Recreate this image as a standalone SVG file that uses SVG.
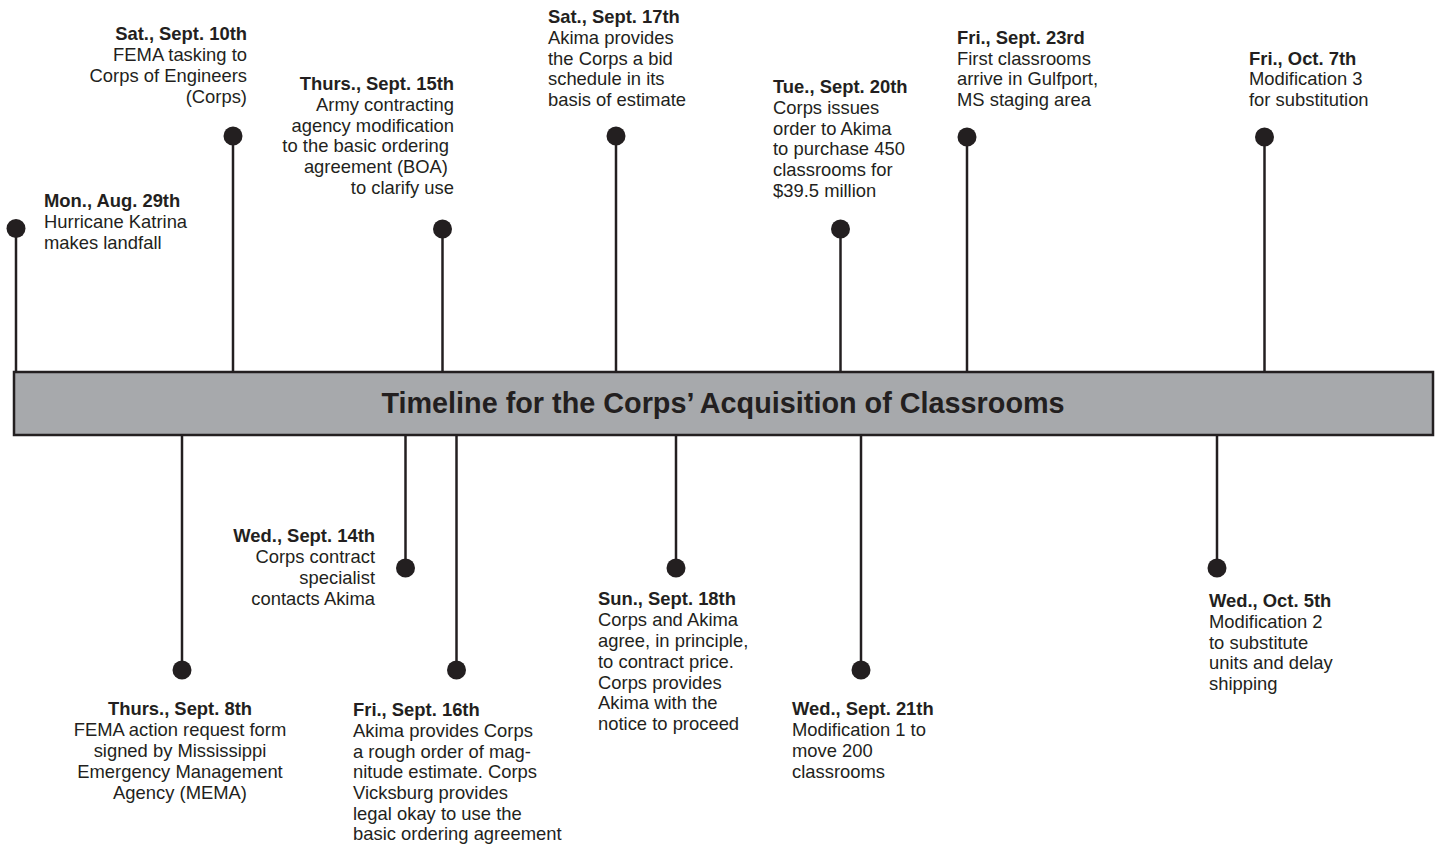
<svg xmlns="http://www.w3.org/2000/svg" width="1439" height="848" viewBox="0 0 1439 848">
<style>
text{font-family:"Liberation Sans",Arial,Helvetica,sans-serif;font-size:18.4px;fill:#231f20}
.b{font-weight:bold}
.e{text-anchor:end}
.m{text-anchor:middle}
.title{font-weight:bold;font-size:28.8px;text-anchor:middle}
.stem{stroke:#231f20;stroke-width:2.5;fill:none}
.dot{fill:#231f20}
</style>
<rect width="1439" height="848" fill="#ffffff"/>
<g id="connectors">
<line class="stem" x1="16" y1="228" x2="16" y2="373"/>
<line class="stem" x1="233" y1="136" x2="233" y2="373"/>
<line class="stem" x1="442.5" y1="229" x2="442.5" y2="373"/>
<line class="stem" x1="616" y1="136" x2="616" y2="373"/>
<line class="stem" x1="840.5" y1="229" x2="840.5" y2="373"/>
<line class="stem" x1="967" y1="137" x2="967" y2="373"/>
<line class="stem" x1="1264.5" y1="137" x2="1264.5" y2="373"/>
<line class="stem" x1="182" y1="434" x2="182" y2="670"/>
<line class="stem" x1="405.5" y1="434" x2="405.5" y2="568"/>
<line class="stem" x1="456.5" y1="434" x2="456.5" y2="670"/>
<line class="stem" x1="676" y1="434" x2="676" y2="568"/>
<line class="stem" x1="861" y1="434" x2="861" y2="670"/>
<line class="stem" x1="1217" y1="434" x2="1217" y2="568"/>
</g>
<g id="bar">
<rect x="14" y="372" width="1419" height="63" fill="#a7a9ac" stroke="#231f20" stroke-width="2.5"/>
<text class="title" x="723" y="413">Timeline for the Corps’ Acquisition of Classrooms</text>
</g>
<g id="aug29">
<circle class="dot" cx="16" cy="228.5" r="9.5"/>
<text x="44" y="207"><tspan class="b">Mon., Aug. 29th</tspan><tspan x="44" y="228">Hurricane Katrina</tspan><tspan x="44" y="249">makes landfall</tspan></text>
</g>
<g id="sep8">
<circle class="dot" cx="182" cy="670" r="9.5"/>
<text class="m" x="180" y="715"><tspan class="b">Thurs., Sept. 8th</tspan><tspan x="180" y="736">FEMA action request form</tspan><tspan x="180" y="757">signed by Mississippi</tspan><tspan x="180" y="778">Emergency Management</tspan><tspan x="180" y="799">Agency (MEMA)</tspan></text>
</g>
<g id="sep10">
<circle class="dot" cx="233" cy="136" r="9.5"/>
<text class="e" x="247" y="40"><tspan class="b">Sat., Sept. 10th</tspan><tspan x="247" y="61">FEMA tasking to</tspan><tspan x="247" y="82">Corps of Engineers</tspan><tspan x="247" y="103">(Corps)</tspan></text>
</g>
<g id="sep14">
<circle class="dot" cx="405.5" cy="568" r="9.5"/>
<text class="e" x="375" y="542"><tspan class="b">Wed., Sept. 14th</tspan><tspan x="375" y="563">Corps contract</tspan><tspan x="375" y="584">specialist</tspan><tspan x="375" y="605">contacts Akima</tspan></text>
</g>
<g id="sep15">
<circle class="dot" cx="442.5" cy="229" r="9.5"/>
<text class="e" x="454" y="90"><tspan class="b">Thurs., Sept. 15th</tspan><tspan x="454" y="111">Army contracting</tspan><tspan x="454" y="131.5">agency modification</tspan><tspan x="449" y="152">to the basic ordering</tspan><tspan x="448" y="173">agreement (BOA)</tspan><tspan x="454" y="193.5">to clarify use</tspan></text>
</g>
<g id="sep16">
<circle class="dot" cx="456.5" cy="670" r="9.5"/>
<text x="353" y="716"><tspan class="b">Fri., Sept. 16th</tspan><tspan x="353" y="737">Akima provides Corps</tspan><tspan x="353" y="757.5">a rough order of mag-</tspan><tspan x="353" y="778">nitude estimate. Corps</tspan><tspan x="353" y="798.5">Vicksburg provides</tspan><tspan x="353" y="819.5">legal okay to use the</tspan><tspan x="353" y="840">basic ordering agreement</tspan></text>
</g>
<g id="sep17">
<circle class="dot" cx="616" cy="136" r="9.5"/>
<text x="548" y="22.5"><tspan class="b">Sat., Sept. 17th</tspan><tspan x="548" y="43.5">Akima provides</tspan><tspan x="548" y="64.5">the Corps a bid</tspan><tspan x="548" y="85">schedule in its</tspan><tspan x="548" y="106">basis of estimate</tspan></text>
</g>
<g id="sep18">
<circle class="dot" cx="676" cy="568" r="9.5"/>
<text x="598" y="605"><tspan class="b">Sun., Sept. 18th</tspan><tspan x="598" y="626">Corps and Akima</tspan><tspan x="598" y="647">agree, in principle,</tspan><tspan x="598" y="667.5">to contract price.</tspan><tspan x="598" y="688.5">Corps provides</tspan><tspan x="598" y="709">Akima with the</tspan><tspan x="598" y="730">notice to proceed</tspan></text>
</g>
<g id="sep20">
<circle class="dot" cx="840.5" cy="229" r="9.5"/>
<text x="773" y="93"><tspan class="b">Tue., Sept. 20th</tspan><tspan x="773" y="113.5">Corps issues</tspan><tspan x="773" y="134.5">order to Akima</tspan><tspan x="773" y="155">to purchase 450</tspan><tspan x="773" y="176">classrooms for</tspan><tspan x="773" y="196.5">$39.5 million</tspan></text>
</g>
<g id="sep21">
<circle class="dot" cx="861" cy="670" r="9.5"/>
<text x="792" y="715"><tspan class="b">Wed., Sept. 21th</tspan><tspan x="792" y="736">Modification 1 to</tspan><tspan x="792" y="757">move 200</tspan><tspan x="792" y="777.5">classrooms</tspan></text>
</g>
<g id="sep23">
<circle class="dot" cx="967" cy="137" r="9.5"/>
<text x="957" y="43.5"><tspan class="b">Fri., Sept. 23rd</tspan><tspan x="957" y="64.5">First classrooms</tspan><tspan x="957" y="85">arrive in Gulfport,</tspan><tspan x="957" y="106">MS staging area</tspan></text>
</g>
<g id="oct5">
<circle class="dot" cx="1217" cy="568" r="9.5"/>
<text x="1209" y="607"><tspan class="b">Wed., Oct. 5th</tspan><tspan x="1209" y="628">Modification 2</tspan><tspan x="1209" y="648.5">to substitute</tspan><tspan x="1209" y="669">units and delay</tspan><tspan x="1209" y="690">shipping</tspan></text>
</g>
<g id="oct7">
<circle class="dot" cx="1264.5" cy="137" r="9.5"/>
<text x="1249" y="64.5"><tspan class="b">Fri., Oct. 7th</tspan><tspan x="1249" y="85">Modification 3</tspan><tspan x="1249" y="106">for substitution</tspan></text>
</g>
</svg>
